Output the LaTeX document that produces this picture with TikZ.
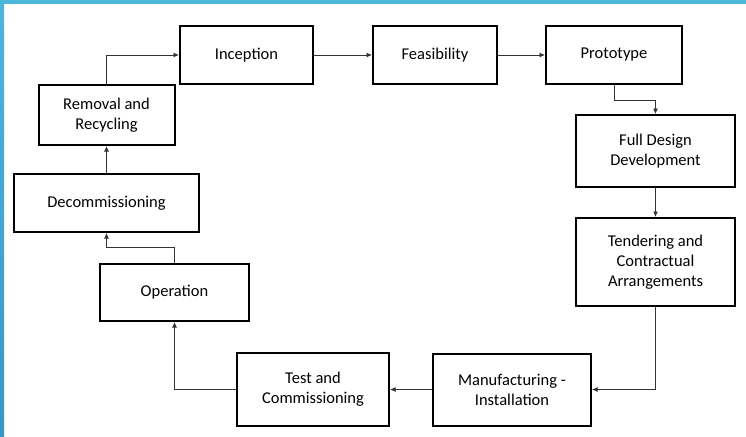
\documentclass[tikz,border=0pt]{standalone}
\usepackage{fontspec}
\setmainfont{Carlito}
\usetikzlibrary{arrows.meta}
\definecolor{barblue}{RGB}{77,182,219}
\definecolor{bardark}{RGB}{55,150,198}
\tikzset{
  stage/.style={draw,line width=2pt,align=center,inner sep=2pt,font=\fontsize{16.5}{20}\selectfont},
  flow/.style={black!80,line width=.8pt,-{Latex[length=5.5pt,width=5pt]}}
}
\begin{document}
\begin{tikzpicture}[x=1pt,y=-1pt]
\useasboundingbox (0,0) rectangle (746,436);
\fill[barblue] (0,0) rectangle (746,4);
\shade[top color=barblue,bottom color=bardark] (0,0) rectangle (4,436);
% the ten stages
\node[stage,minimum width=133,minimum height=58] (inc) at (246.5,55) {Inception};
\node[stage,minimum width=124,minimum height=58] (fea) at (435,55) {Feasibility};
\node[stage,minimum width=136,minimum height=58] (pro) at (614,55) {Prototype};
\node[stage,minimum width=159,minimum height=72] (full) at (655.5,151) {Full Design\\Development};
\node[stage,minimum width=159,minimum height=88] (tend) at (655.5,262) {Tendering and\\Contractual\\Arrangements};
\node[stage,minimum width=158,minimum height=72] (manu) at (512,389.5) {Manufacturing -\\Installation};
\node[stage,minimum width=152,minimum height=73] (test) at (313,389.5) {Test and\\Commissioning};
\node[stage,minimum width=149,minimum height=57] (oper) at (174.5,292.5) {Operation};
\node[stage,minimum width=185,minimum height=58] (dec) at (106.5,203) {Decommissioning};
\node[stage,minimum width=136,minimum height=60] (rem) at (106.5,115) {Removal and\\Recycling};
% connectors
\draw[flow] (rem.north) |- (inc.west);
\draw[flow] (inc.east) -- (fea.west);
\draw[flow] (fea.east) -- (pro.west);
\draw[flow] (pro.south) -- ++(0,15) -| (full.north);
\draw[flow] (full.south) -- (tend.north);
\draw[flow] (tend.south) |- (manu.east);
\draw[flow] (manu.west) -- (test.east);
\draw[flow] (test.west) -| (oper.south);
\draw[flow] (oper.north) -- ++(0,-16) -| (dec.south);
\draw[flow] (dec.north) -- (rem.south);
\end{tikzpicture}
\end{document}
